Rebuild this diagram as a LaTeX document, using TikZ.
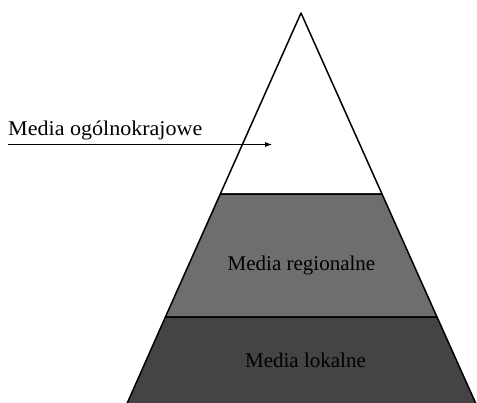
\documentclass[tikz,border=0pt]{standalone}
\usepackage{fontspec}
\setmainfont{Liberation Serif}
\usetikzlibrary{arrows.meta}
\definecolor{midgray}{RGB}{110,110,110}
\definecolor{darkgray}{RGB}{68,68,68}
\tikzset{
  band/.style={draw=black,line width=1.5pt,line join=round},
  label/.style={font=\fontsize{21}{24}\selectfont,inner sep=0pt}
}
\begin{document}
\begin{tikzpicture}[x=1pt,y=-1pt]
        \clip (0,0) rectangle (477,402);
        % corners of the pyramid
        \coordinate (apex) at (301,13);
        \coordinate (tl) at (220.3,194);
        \coordinate (tr) at (382,194);
        \coordinate (ml) at (165.4,317);
        \coordinate (mr) at (437,317);
        \coordinate (bl) at (122,415);
        \coordinate (br) at (481,415);
        \filldraw[band,fill=white] (apex)--(tr)--(tl)--cycle;
        \filldraw[band,fill=midgray] (tl)--(tr)--(mr)--(ml)--cycle;
        \filldraw[band,fill=darkgray] (ml)--(mr)--(br)--(bl)--cycle;
        \node[label] (regional) at (301.5,265) {Media regionalne};
        \node[label] (local) at (305.5,360) {Media lokalne};
        \node[label,anchor=base west,xscale=1.05] (national) at (8,135) {Media ogólnokrajowe};
        \coordinate (from) at (8,144.5);
        \coordinate (to) at (272,144.5);
        \draw[line width=0.8pt,-{Latex[length=7pt,width=5pt]}] (from)--(to);
\end{tikzpicture}
\end{document}
